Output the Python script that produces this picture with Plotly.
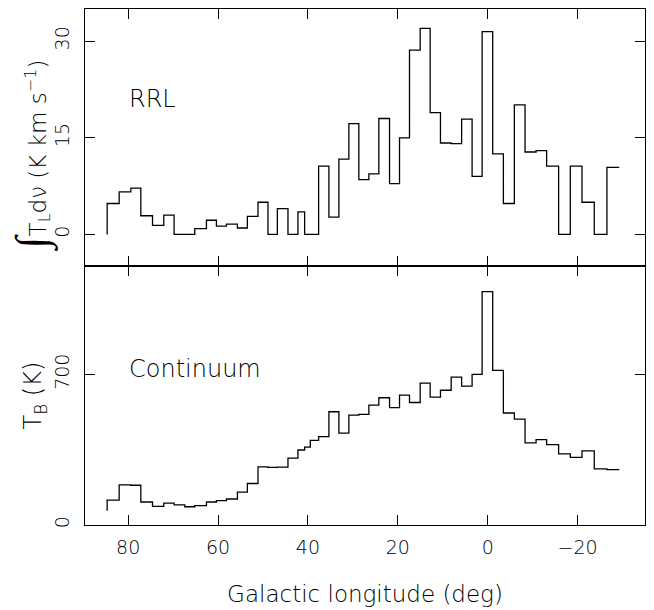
import plotly.graph_objects as go
from plotly.subplots import make_subplots

# Bin edges in Galactic longitude (deg), decreasing
edges = [84.67, 82.0, 79.4, 77.18, 74.58, 72.07, 69.78, 67.4, 65.18, 62.58,
         60.36, 58.13, 55.69, 53.47, 51.11, 48.89, 46.8, 44.44, 42.22, 40.73,
         39.47, 37.62, 35.33, 33.11, 30.89, 28.67, 26.44, 24.22, 21.84, 19.62,
         17.4, 15.02, 12.8, 10.51, 8.13, 5.8, 3.47, 1.24, -1.11, -3.49,
         -5.93, -8.31, -10.76, -13.11, -15.78, -18.38, -20.98, -23.71, -26.53, -29.27]

# Integrated RRL intensity (K km/s) per bin
rrl = [4.8, 6.6, 7.2, 2.9, 1.4, 3.0, 0.0, 0.0, 0.9, 2.2,
       1.3, 1.6, 1.0, 2.8, 5.0, 0.0, 4.0, 0.0, 3.5, 0.0,
       0.0, 10.6, 2.7, 11.7, 17.2, 8.5, 9.4, 18.0, 7.9, 15.0,
       28.6, 32.0, 18.9, 14.2, 14.1, 17.9, 9.0, 31.5, 12.5, 4.8,
       20.1, 12.8, 13.0, 10.6, 0.0, 10.6, 5.0, 0.0, 10.4]
rrl_start = 0.0

# Continuum brightness temperature (K) per bin
cont = [116, 187, 185, 107, 87, 102, 94, 85, 90, 107,
        113, 121, 153, 193, 270, 268, 269, 311, 349, 362,
        394, 411, 527, 427, 511, 515, 558, 592, 546, 604,
        570, 660, 595, 627, 688, 646, 701, 1086, 719, 521,
        493, 382, 397, 374, 331, 315, 345, 261, 258]
cont_start = 66

xticks = [80, 60, 40, 20, 0, -20]
xtick_text = ["80", "60", "40", "20", "0", "\u221220"]

FONT = "DejaVu Sans"
W = 200

def step_xy(e, v, start):
    xs = [e[0]] + list(e)
    ys = [start] + list(v) + [v[-1]]
    return xs, ys

fig = make_subplots(rows=2, cols=1, shared_xaxes=False, vertical_spacing=0.0)

x1, y1 = step_xy(edges, rrl, rrl_start)
x2, y2 = step_xy(edges, cont, cont_start)
fig.add_trace(go.Scatter(x=x1, y=y1, mode="lines", line=dict(shape="hv", color="black", width=1.3),
                         showlegend=False, hoverinfo="skip"), row=1, col=1)
fig.add_trace(go.Scatter(x=x2, y=y2, mode="lines", line=dict(shape="hv", color="black", width=1.3),
                         showlegend=False, hoverinfo="skip"), row=2, col=1)

split = (527 - 267) / 518.0
axis_common = dict(showline=True, linecolor="black", linewidth=1.3, mirror="ticks",
                   ticks="inside", ticklen=10, tickwidth=1.2, tickcolor="black",
                   showgrid=False, zeroline=False,
                   tickfont=dict(family=FONT, size=19, color="black", weight=W))

fig.update_xaxes(range=[89.6, -35.0], tickvals=xticks, ticktext=xtick_text,
                 ticklabelstandoff=5, **axis_common)
fig.update_xaxes(showticklabels=False, row=1, col=1)
fig.update_xaxes(title=dict(text="Galactic longitude (deg)",
                            font=dict(family=FONT, size=23, color="black", weight=W),
                            standoff=28), row=2, col=1)

fig.update_yaxes(tickangle=-90, ticklabelstandoff=7, **axis_common)
fig.update_yaxes(range=[-4.9, 35.0], tickvals=[0, 15, 30], row=1, col=1)
fig.update_yaxes(range=[0, 1205], tickvals=[0, 700], row=2, col=1)

fig.update_layout(
    width=654, height=610,
    margin=dict(l=85, r=8, t=9, b=83),
    paper_bgcolor="white", plot_bgcolor="white",
    font=dict(family=FONT, color="black", weight=W),
    yaxis=dict(domain=[split, 1.0]),
    yaxis2=dict(domain=[0.0, split]),
)

fig.add_annotation(text="RRL", x=80.3, y=21.0, xref="x", yref="y", xanchor="left", yanchor="middle",
                   showarrow=False, font=dict(family=FONT, size=24, color="black", weight=W))
fig.add_annotation(text="Continuum", x=80.3, y=725, xref="x2", yref="y2", xanchor="left", yanchor="middle",
                   showarrow=False, font=dict(family=FONT, size=24, color="black", weight=W))

fig.add_annotation(text="<span style='font-size:44px'>\u222b</span>T<sub>L</sub>d\u03bd (K km s<sup>\u22121</sup>)",
                   x=0, y=0.43, xref="paper", yref="y domain", xanchor="center", yanchor="middle",
                   xshift=-54, textangle=-90, showarrow=False,
                   font=dict(family=FONT, size=23, color="black", weight=W))
fig.add_annotation(text="T<sub>B</sub> (K)",
                   x=0, y=0.5, xref="paper", yref="y2 domain", xanchor="center", yanchor="middle",
                   xshift=-50, textangle=-90, showarrow=False,
                   font=dict(family=FONT, size=24, color="black", weight=W))

fig.write_html("out.html")
